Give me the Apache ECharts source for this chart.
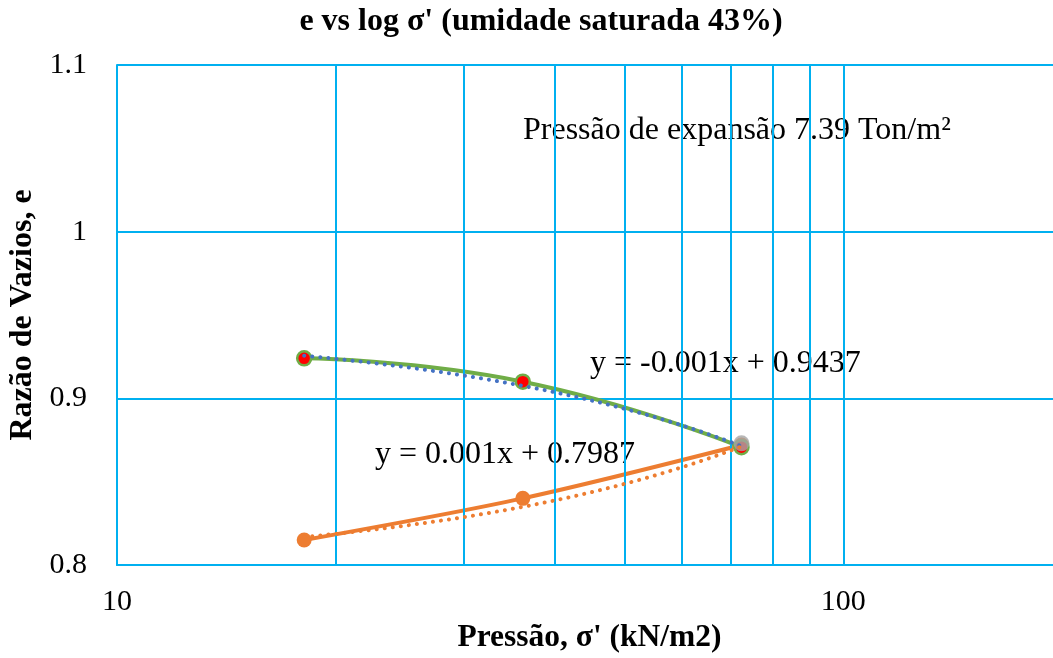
<!DOCTYPE html>
<html>
<head>
<meta charset="utf-8">
<script src="https://cdn.jsdelivr.net/npm/echarts@6/dist/echarts.min.js"></script>
<style>
  html, body { margin: 0; padding: 0; background: #fff; }
  #chart { width: 1053px; height: 658px; }
</style>
</head>
<body>
<div id="chart"></div>
<script>
// Oedometer readings: applied pressure (kN/m2) and void ratio e
const pressure = [18.1, 36.2, 72.4];
const voidRatioUnloading = [0.924, 0.910, 0.8707];
const voidRatioLoading = [0.815, 0.840, 0.872];
const swellPressurePoint = [72.4, 0.873];

// Linear trendlines (e = a·σ' + b) as written on the chart
const trendSlope = [-0.001, 0.001];
const trendIntercept = [0.9437, 0.7987];

// Vertical guides on the log axis between the decades
const minorGridValues = [20, 30, 40, 50, 60, 70, 80, 90];

const FONT = 'Liberation Serif';
const GRID_BLUE = '#00B0F0';

function trendLabel(a, b) {
  const sign = a < 0 ? '-' : '';
  return 'y = ' + sign + Math.abs(a).toFixed(3) + 'x + ' + b.toFixed(4);
}

// trendline traced across the data range (a straight line in σ' is curved on the log axis)
function trendCurve(a, b) {
  const x0 = Math.min.apply(null, pressure);
  const x1 = Math.max.apply(null, pressure);
  const pts = [];
  const n = 60;
  for (let i = 0; i <= n; i++) {
    const x = Math.pow(10, Math.log10(x0) + (Math.log10(x1) - Math.log10(x0)) * i / n);
    pts.push([x, a * x + b]);
  }
  return pts;
}

const zip = (xs, ys) => xs.map((x, i) => [x, ys[i]]);

const chart = echarts.init(document.getElementById('chart'), null, { renderer: 'canvas' });

chart.setOption({
  backgroundColor: '#ffffff',
  animation: false,
  textStyle: { fontFamily: FONT },
  // plot area runs past the right edge of the page (axis ends at 200)
  grid: { left: 117, width: 945, top: 65, height: 500, containLabel: false, outerBoundsMode: 'none' },
  xAxis: {
    type: 'log',
    logBase: 10,
    min: 10,
    max: 200,
    name: "Pressão, σ' (kN/m2)",
    nameLocation: 'middle',
    nameGap: 56,
    nameTextStyle: { fontFamily: FONT, fontWeight: 'bold', fontSize: 31.5, color: '#000' },
    axisLine: { show: true, lineStyle: { color: GRID_BLUE, width: 2 } },
    axisTick: { show: false },
    axisLabel: {
      fontFamily: FONT, fontSize: 30, color: '#000', margin: 22,
      formatter: v => (Math.abs(Math.log10(v) - Math.round(Math.log10(v))) < 1e-9 ? String(Math.round(v)) : '')
    },
    splitLine: { show: true, lineStyle: { color: GRID_BLUE, width: 2 } }
  },
  yAxis: {
    type: 'value',
    min: 0.8,
    max: 1.1,
    interval: 0.1,
    name: 'Razão de Vazios, e',
    nameLocation: 'middle',
    nameGap: 76,
    nameTextStyle: { fontFamily: FONT, fontWeight: 'bold', fontSize: 32, color: '#000' },
    axisLine: { show: true, lineStyle: { color: GRID_BLUE, width: 2 } },
    axisTick: { show: false },
    axisLabel: {
      fontFamily: FONT, fontSize: 30, color: '#000', margin: 30,
      formatter: v => String(Math.round(v * 10) / 10)
    },
    splitLine: { show: true, lineStyle: { color: GRID_BLUE, width: 2 } }
  },
  graphic: [
    {
      type: 'text', x: 541, y: 22,
      style: { text: "e vs log σ' (umidade saturada 43%)", font: 'bold 32px "Liberation Serif"', fill: '#000', align: 'center', verticalAlign: 'middle' }
    },
    {
      type: 'text', x: 523, y: 131,
      style: { text: 'Pressão de expansão 7.39 Ton/m²', font: '32px "Liberation Serif"', fill: '#000', verticalAlign: 'middle' }
    },
    {
      type: 'text', x: 590, y: 364,
      style: { text: trendLabel(trendSlope[0], trendIntercept[0]), font: '32px "Liberation Serif"', fill: '#000', verticalAlign: 'middle' }
    },
    {
      type: 'text', x: 375, y: 455,
      style: { text: trendLabel(trendSlope[1], trendIntercept[1]), font: '32px "Liberation Serif"', fill: '#000', verticalAlign: 'middle' }
    }
  ],
  series: [
    {
      name: 'guides',
      type: 'line',
      data: [],
      silent: true,
      markLine: {
        silent: true,
        symbol: 'none',
        label: { show: false },
        lineStyle: { color: GRID_BLUE, width: 2, type: 'solid' },
        data: minorGridValues.map(v => ({ xAxis: v }))
      }
    },
    {
      name: 'Carregamento',
      type: 'line',
      data: zip(pressure, voidRatioLoading),
      smooth: 0.3,
      symbol: 'circle',
      symbolSize: 15,
      lineStyle: { color: '#ED7D31', width: 4 },
      itemStyle: { color: '#ED7D31' },
      z: 3
    },
    {
      name: 'Descarregamento',
      type: 'line',
      data: zip(pressure, voidRatioUnloading),
      smooth: 0.5,
      symbol: 'circle',
      symbolSize: 14,
      lineStyle: { color: '#70AD47', width: 4 },
      itemStyle: { color: '#FF0000', borderColor: '#70AD47', borderWidth: 2.5 },
      z: 4
    },
    {
      name: 'Pressão de expansão',
      type: 'scatter',
      data: [swellPressurePoint],
      symbol: 'circle',
      symbolSize: 16,
      itemStyle: { color: '#A5A5A5' },
      z: 5
    },
    {
      name: 'Tendência descarregamento',
      type: 'line',
      data: trendCurve(trendSlope[0], trendIntercept[0]),
      showSymbol: false,
      symbol: 'none',
      lineStyle: { color: '#4472C4', width: 4, type: [0.1, 8], cap: 'round' },
      z: 6
    },
    {
      name: 'Tendência carregamento',
      type: 'line',
      data: trendCurve(trendSlope[1], trendIntercept[1]),
      showSymbol: false,
      symbol: 'none',
      lineStyle: { color: '#ED7D31', width: 4, type: [0.1, 8], cap: 'round' },
      z: 6
    }
  ]
});
</script>
</body>
</html>
